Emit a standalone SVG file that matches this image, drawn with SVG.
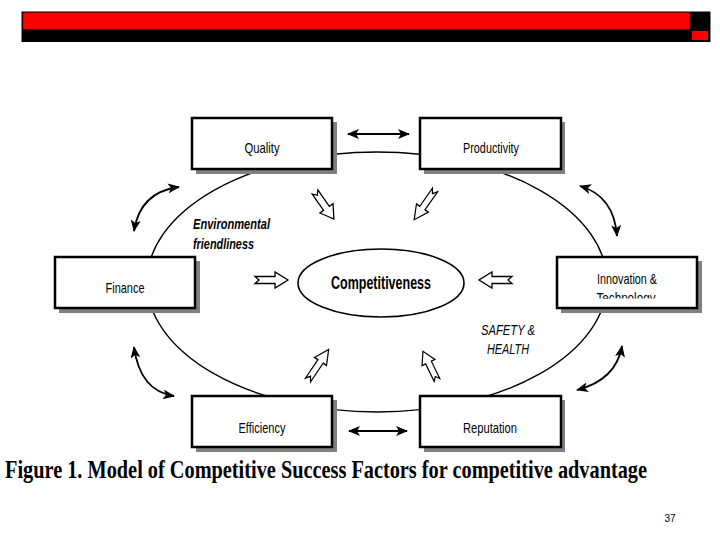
<svg xmlns="http://www.w3.org/2000/svg" width="720" height="540" viewBox="0 0 720 540">
<style>
.box{fill:#fff;stroke:#000;stroke-width:2.5}
.shd{fill:#808080}
.lbl{font-family:"Liberation Sans",Arial,sans-serif;font-size:15px;fill:#000;text-anchor:middle}
.it{font-family:"Liberation Sans",Arial,sans-serif;font-style:italic;fill:#000}
.blk{fill:#fff;stroke:#000;stroke-width:1.3;stroke-linejoin:miter}
.dbl{fill:none;stroke:#000;stroke-width:2;marker-start:url(#ah);marker-end:url(#ah)}
.crv{fill:none;stroke:#000;stroke-width:1.8;marker-start:url(#ah);marker-end:url(#ah)}
</style>
<defs>
<marker id="ah" viewBox="0 -5 12 10" refX="11" refY="0" markerWidth="12" markerHeight="10" markerUnits="userSpaceOnUse" orient="auto-start-reverse">
<path d="M0,-5 L12,0 L0,5 L3,0 Z" fill="#000"/>
</marker>
<path id="barrow" d="M0,-3.5 L20,-3.5 L20,-8 L33,0 L20,8 L20,3.5 L0,3.5 L4,0 Z"/>
<clipPath id="clipInno"><rect x="556" y="256" width="142" height="42.5"/></clipPath>
</defs>
<rect width="720" height="540" fill="#fff"/>
<g id="header">
<rect x="21.5" y="11.5" width="689" height="30.5" fill="#000"/>
<rect x="23" y="12.7" width="667" height="16.6" fill="#ff0000" stroke="#7a0000" stroke-width="0.8"/>
<rect x="692" y="31" width="16" height="9" fill="#ff0000"/>
</g>
<g id="connectors">
<ellipse cx="377" cy="282" rx="230" ry="130" fill="none" stroke="#000" stroke-width="1.4"/>
<line class="dbl" x1="348" y1="134" x2="409" y2="134"/>
<line class="dbl" x1="349" y1="431" x2="407" y2="431"/>
<path class="crv" d="M179,187 Q140,192 134,231"/>
<path class="crv" d="M580,186 Q614,196 617,236"/>
<path class="crv" d="M134,347 Q140,391 174,396"/>
<path class="crv" d="M577,390 Q616,380 622,346"/>
<use href="#barrow" class="blk" transform="translate(255,280)"/>
<use href="#barrow" class="blk" transform="translate(512,280) rotate(180)"/>
<use href="#barrow" class="blk" transform="translate(315,192) rotate(55)"/>
<use href="#barrow" class="blk" transform="translate(435,190) rotate(125) scale(1.1,0.9)"/>
<use href="#barrow" class="blk" transform="translate(308,380) rotate(-56) scale(1.12,0.9)"/>
<use href="#barrow" class="blk" transform="translate(437,380) rotate(-116) scale(0.97,0.9)"/>
</g>
<g id="quality">
<rect class="shd" x="196" y="122" width="141" height="52"/>
<rect class="box" x="192" y="118" width="140" height="51"/>
<text class="lbl" x="262" y="153" textLength="35" lengthAdjust="spacingAndGlyphs">Quality</text>
</g>
<g id="productivity">
<rect class="shd" x="424" y="122" width="141" height="52"/>
<rect class="box" x="420" y="118" width="141" height="51"/>
<text class="lbl" x="491" y="153" textLength="56" lengthAdjust="spacingAndGlyphs">Productivity</text>
</g>
<g id="finance">
<rect class="shd" x="59" y="261" width="141" height="52"/>
<rect class="box" x="55" y="257" width="140" height="51"/>
<text class="lbl" x="125" y="292.5" textLength="39" lengthAdjust="spacingAndGlyphs">Finance</text>
</g>
<g id="innovation">
<rect class="shd" x="561" y="261" width="141" height="52"/>
<rect class="box" x="557" y="257" width="140" height="51"/>
<text class="lbl" x="627" y="284" textLength="60" lengthAdjust="spacingAndGlyphs">Innovation &amp;</text>
<text class="lbl" x="626" y="302.5" textLength="59" lengthAdjust="spacingAndGlyphs" clip-path="url(#clipInno)">Technology</text>
</g>
<g id="efficiency">
<rect class="shd" x="196" y="400" width="141" height="52"/>
<rect class="box" x="192" y="396" width="140" height="51"/>
<text class="lbl" x="262" y="432.5" textLength="47" lengthAdjust="spacingAndGlyphs">Efficiency</text>
</g>
<g id="reputation">
<rect class="shd" x="424" y="400" width="141" height="52"/>
<rect class="box" x="420" y="396" width="141" height="51"/>
<text class="lbl" x="490" y="432.5" textLength="54" lengthAdjust="spacingAndGlyphs">Reputation</text>
</g>
<g id="competitiveness">
<ellipse cx="381" cy="283" rx="83" ry="34" fill="#fff" stroke="#000" stroke-width="1.6"/>
<text x="381" y="289" font-family="'Liberation Sans',Arial,sans-serif" font-weight="bold" font-size="18" text-anchor="middle" textLength="100" lengthAdjust="spacingAndGlyphs">Competitiveness</text>
</g>
<g id="labels">
<text class="it" x="193" y="229" font-size="14" font-weight="bold" textLength="77" lengthAdjust="spacingAndGlyphs">Environmental</text>
<text class="it" x="193" y="249" font-size="14" font-weight="bold" textLength="61" lengthAdjust="spacingAndGlyphs">friendliness</text>
<text class="it" x="481" y="335" font-size="15" textLength="54" lengthAdjust="spacingAndGlyphs">SAFETY &amp;</text>
<text class="it" x="487" y="354" font-size="15" textLength="42" lengthAdjust="spacingAndGlyphs">HEALTH</text>
</g>
<g id="caption">
<text x="5" y="478" font-family="'Liberation Serif','Times New Roman',serif" font-weight="bold" font-size="26" textLength="642" lengthAdjust="spacingAndGlyphs">Figure 1. Model of Competitive Success Factors for competitive advantage</text>
<text x="670" y="522" font-family="'Liberation Sans',Arial,sans-serif" font-size="10" text-anchor="middle">37</text>
</g>
</svg>
